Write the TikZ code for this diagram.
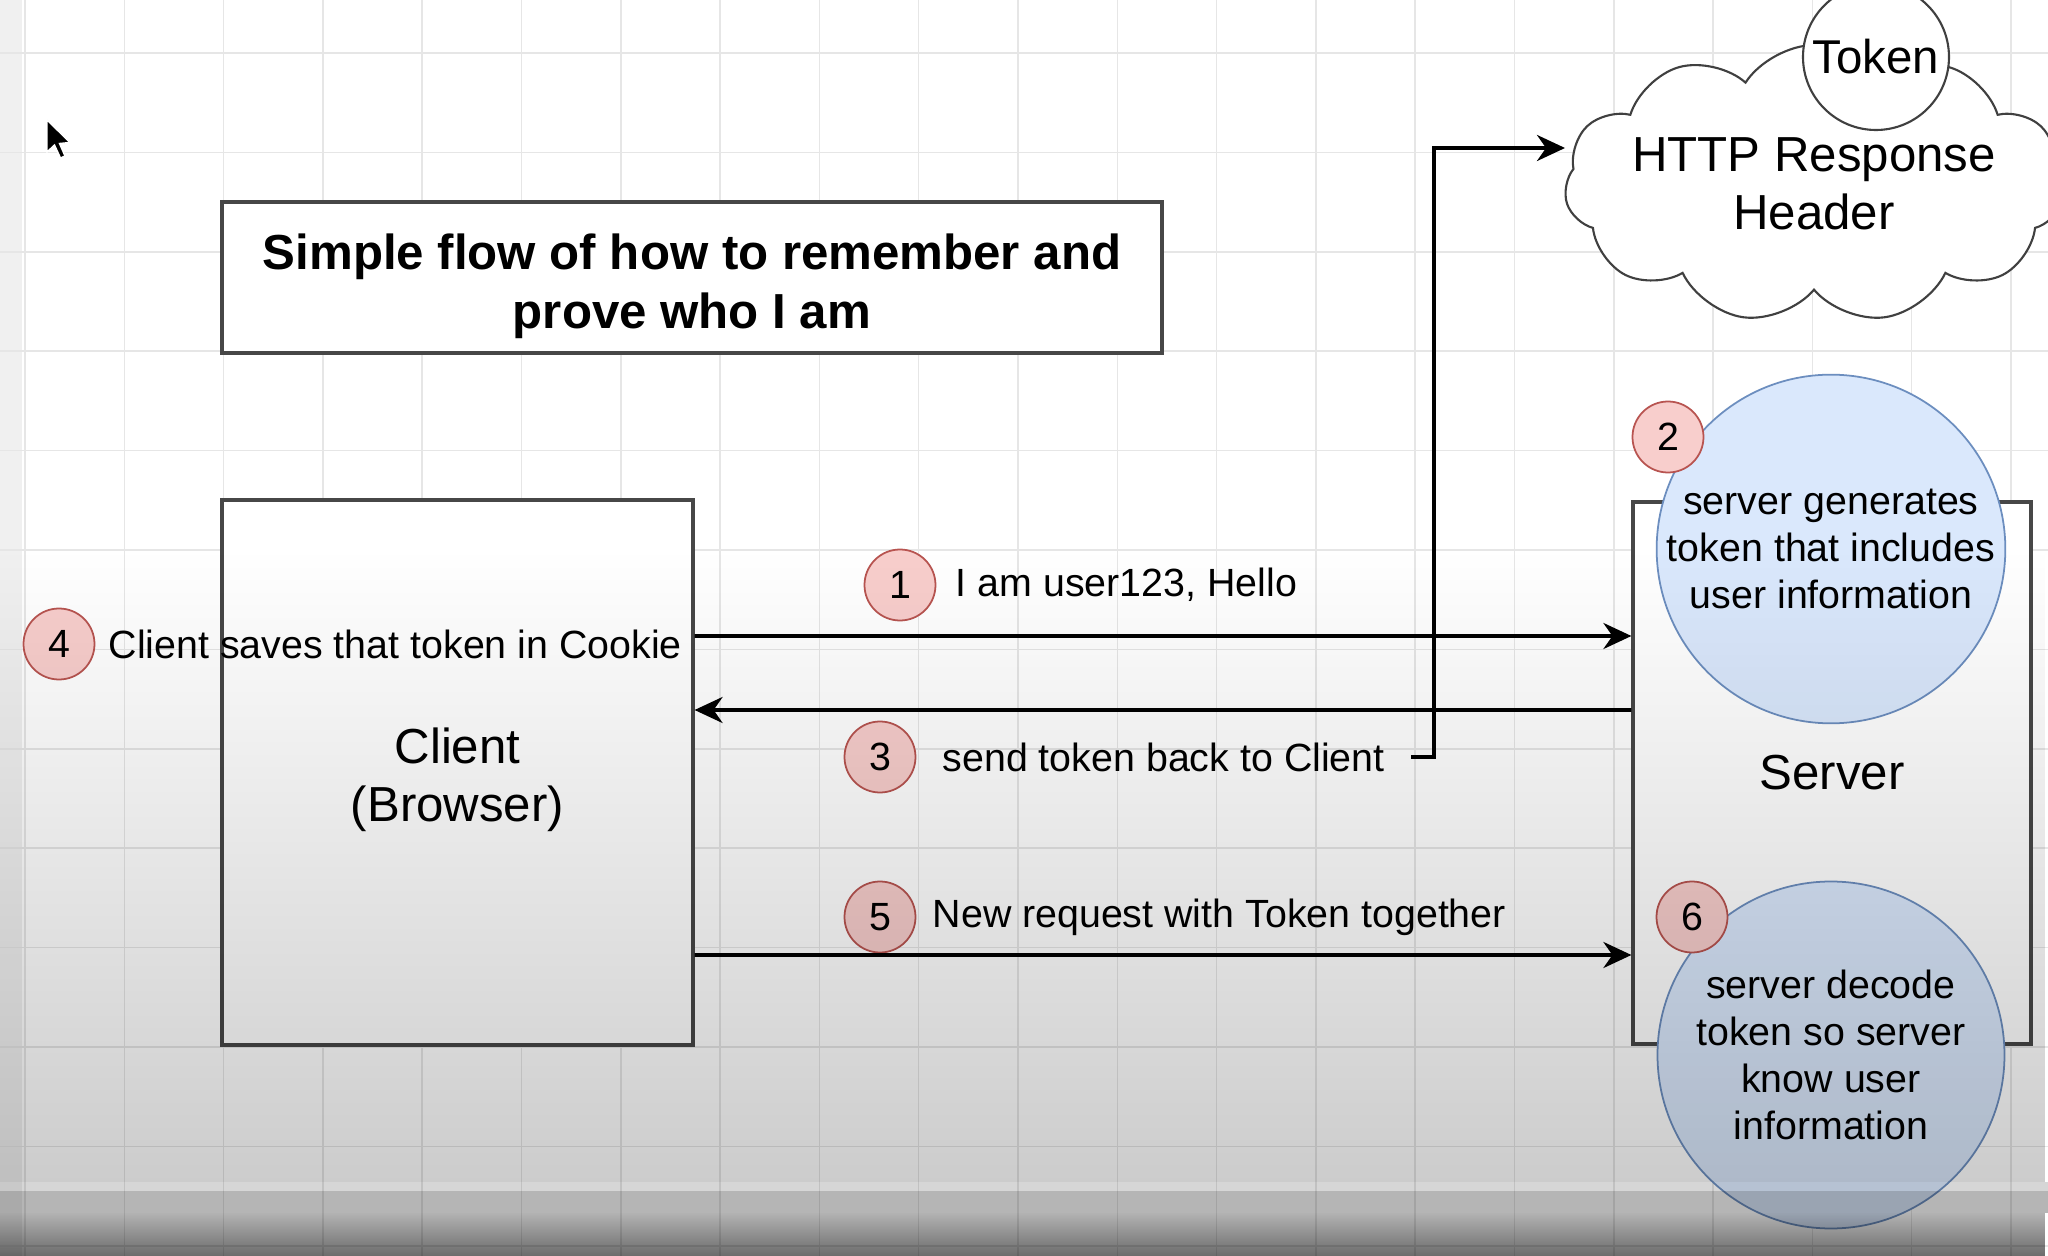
\documentclass[tikz,border=0pt]{standalone}
\usepackage{fontspec}
\setmainfont{Liberation Sans}
\usetikzlibrary{arrows.meta,shapes.symbols,fadings}

\definecolor{bfill}{HTML}{DAE8FC}
\definecolor{bline}{HTML}{6C8EBF}
\definecolor{rfill}{HTML}{F8CECC}
\definecolor{rline}{HTML}{B85450}
\definecolor{gridc}{HTML}{E6E6E6}

\tikzfading[name=dimdown,top color=transparent!100,bottom color=transparent!80]
\tikzfading[name=dimfoot,top color=transparent!70,bottom color=transparent!42]

\begin{document}
\begin{tikzpicture}[>={Stealth[length=2.8mm,width=2.6mm,inset=0.9mm]},
  box/.style={draw=black!72,line width=0.9pt,fill=white,align=center,inner sep=0pt,font=\fontsize{14}{16.5}\selectfont},
  bubble/.style={circle,draw=bline,line width=0.5pt,fill=bfill,minimum size=3.47cm,inner sep=0pt,align=center,font=\fontsize{11.2}{13.3}\selectfont},
  badge/.style={circle,draw=rline,line width=0.5pt,fill=rfill,minimum size=0.71cm,inner sep=0pt,font=\fontsize{11.2}{13}\selectfont},
  lbl/.style={anchor=west,inner sep=0pt,font=\fontsize{11.2}{13}\selectfont},
  flow/.style={->,line width=1.1pt}]
\useasboundingbox (0,0) rectangle (20.48,-12.56);
\clip (0,0) rectangle (20.48,-12.56);

% canvas
\fill[white] (0,0) rectangle (20.48,-12.56);
\fill[black!6] (0,0) rectangle (0.22,-12.56);
\foreach \i in {0,...,20} \draw[gridc,line width=0.45pt] (0.25+0.993*\i,0) -- ++(0,-12.56);
\foreach \j in {0,...,12} \draw[gridc,line width=0.45pt] (0,-0.53-0.994*\j) -- ++(20.48,0);

\node[box,font=\bfseries\fontsize{14}{16.8}\selectfont,minimum width=9.40cm,minimum height=1.51cm] (ttl) at (6.92,-2.775) {\rule{0pt}{0.53cm}Simple flow of how to remember and\\prove who I am};

\node[box,minimum width=4.71cm,minimum height=5.45cm] (cl) at (4.575,-7.725) {\rule{0pt}{0.50cm}Client\\(Browser)};
\node[box,minimum width=3.98cm,minimum height=5.42cm] (sv) at (18.32,-7.73) {Server};
\node[bubble] (gen) at (18.31,-5.49) {server generates\\token that includes\\user information};
\node[bubble] (dec) at (18.31,-10.55) {server decode\\token so server\\know user\\information};
\node[badge] (b2) at (16.68,-4.37) {2};
\node[badge] (b6) at (16.92,-9.17) {6};

% response header
\node[cloud,draw=black!75,line width=0.6pt,fill=white,cloud puffs=11,cloud puff arc=115,aspect=2.3,inner xsep=-1mm,inner ysep=-0.9mm,align=center,font=\fontsize{14}{16.5}\selectfont] (cld) at (18.14,-1.84) {HTTP Response\\Header};
\node[circle,draw=black!75,line width=0.6pt,fill=white,minimum size=1.46cm,inner sep=0pt,font=\fontsize{13.5}{16}\selectfont] (tok) at (18.76,-0.57) {Token};

% steps
\node[badge] (b1) at (9.00,-5.85) {1};
\node[lbl] (l1) at (9.55,-5.85) {I am user123, Hello};
\node[badge] (b3) at (8.80,-7.57) {3};
\node[lbl] (l3) at (9.42,-7.57) {send token back to Client};
\node[badge] (b4) at (0.59,-6.44) {4};
\node[lbl] (l4) at (1.08,-6.44) {Client saves that token in Cookie};
\node[badge] (b5) at (8.80,-9.17) {5};
\node[lbl] (l5) at (9.32,-9.17) {New request with Token together};

\draw[flow] ([yshift=13.65mm]cl.east) -- ([yshift=13.7mm]sv.west);
\draw[flow] ([yshift=6.3mm]sv.west) -- ([yshift=6.25mm]cl.east);
\draw[flow] ([yshift=-18.25mm]cl.east) -- ([yshift=-18.2mm]sv.west);
\coordinate (up) at (14.34,-1.48);
\draw[flow] ([xshift=2.6mm]l3.east) -| (up) -- (up -| cld.west);

% pointer
\filldraw[fill=black,draw=white,line width=0.4pt] (0.47,-1.20) -- ++(0,-0.32) -- ++(0.075,0.07) -- ++(0.06,-0.13) -- ++(0.045,0.02) -- ++(-0.055,0.125) -- ++(0.105,0.01) -- cycle;

% video shade
\fill[black,path fading=dimdown] (0,-5.5) rectangle (20.48,-11.82);
\fill[black,opacity=0.16] (0,-11.82) rectangle (20.48,-11.91);
\fill[black,opacity=0.29] (0,-11.91) rectangle (20.48,-12.13);
\fill[black,path fading=dimfoot] (0,-12.13) rectangle (20.48,-12.56);
\end{tikzpicture}
\end{document}
